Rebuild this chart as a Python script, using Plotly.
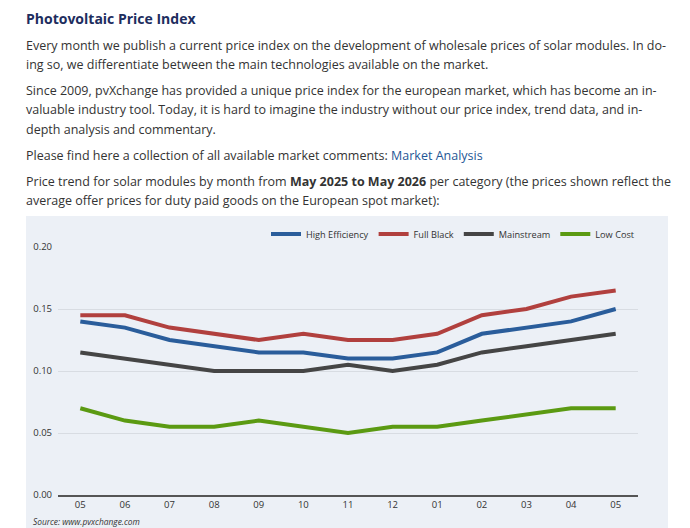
import plotly.graph_objects as go

# price index data, EUR/Wp, May 2025 - May 2026
months = ["05", "06", "07", "08", "09", "10", "11", "12", "01", "02", "03", "04", "05"]
high_eff = [0.14, 0.135, 0.125, 0.12, 0.115, 0.115, 0.11, 0.11, 0.115, 0.13, 0.135, 0.14, 0.15]
full_black = [0.145, 0.145, 0.135, 0.13, 0.125, 0.13, 0.125, 0.125, 0.13, 0.145, 0.15, 0.16, 0.165]
mainstream = [0.115, 0.11, 0.105, 0.10, 0.10, 0.10, 0.105, 0.10, 0.105, 0.115, 0.12, 0.125, 0.13]
low_cost = [0.07, 0.06, 0.055, 0.055, 0.06, 0.055, 0.05, 0.055, 0.055, 0.06, 0.065, 0.07, 0.07]
y_ticks = [0.0, 0.05, 0.10, 0.15, 0.20]

W, H = 690, 528
L, R, T, B = 58, 638, 247, 495  # plot area in pixels

def px(x):
    return (x - L) / (R - L)

def py(y):
    return (B - y) / (B - T)

FONT = "Open Sans"
TXT = "#333333"
BODY = 12.5

fig = go.Figure()
series = [
    ("High Efficiency", high_eff, "#2a5d9b"),
    ("Full Black", full_black, "#b1403e"),
    ("Mainstream", mainstream, "#454545"),
    ("Low Cost", low_cost, "#5b9a12"),
]
for name, vals, col in series:
    fig.add_trace(go.Scatter(x=list(range(len(months))), y=vals, name=name,
                             mode="lines", line=dict(color=col, width=4),
                             hoverinfo="skip"))

# page text
lines = [
    (18, "<b>Photovoltaic Price Index</b>", 14, "#1d2d5e"),
    (45, "Every month we publish a current price index on the development of wholesale prices of solar modules. In do-", BODY, TXT),
    (64, "ing so, we differentiate between the main technologies available on the market.", BODY, TXT),
    (91, "Since 2009, pvXchange has provided a unique price index for the european market, which has become an in-", BODY, TXT),
    (110, "valuable industry tool. Today, it is hard to imagine the industry without our price index, trend data, and in-", BODY, TXT),
    (129, "depth analysis and commentary.", BODY, TXT),
    (155, "Please find here a collection of all available market comments: <span style='color:#1f5796'>Market Analysis</span>", BODY, TXT),
    (181, "Price trend for solar modules by month from <b>May 2025 to May 2026</b> per category (the prices shown reflect the", BODY, TXT),
    (200, "average offer prices for duty paid goods on the European spot market):", BODY, TXT),
]
for y, text, size, col in lines:
    fig.add_annotation(x=px(24), y=py(y), xref="paper", yref="paper", text=text,
                       showarrow=False, xanchor="left", yanchor="middle",
                       font=dict(family=FONT, size=size, color=col))

fig.add_annotation(x=px(31), y=py(521), xref="paper", yref="paper",
                   text="<i>Source: www.pvxchange.com</i>", showarrow=False,
                   xanchor="left", yanchor="middle",
                   font=dict(family=FONT, size=8.4, color=TXT))

# chart panel background
fig.add_shape(type="rect", xref="paper", yref="paper", x0=px(26), x1=px(668),
              y0=py(530), y1=py(216), fillcolor="#ecf0f6", line_width=0, layer="below")

fig.update_layout(
    width=W, height=H,
    margin=dict(l=L, r=W - R, t=T, b=H - B),
    paper_bgcolor="white", plot_bgcolor="rgba(0,0,0,0)",
    font=dict(family=FONT, size=9.5, color=TXT),
    showlegend=True,
    legend=dict(orientation="h", x=px(640), y=py(234), xanchor="right", yanchor="middle",
                bgcolor="rgba(0,0,0,0)", font=dict(size=9.2, color=TXT),
                itemwidth=30, tracegroupgap=0),
)
fig.update_xaxes(range=[-0.5, len(months) - 0.5], tickvals=list(range(len(months))),
                 ticktext=months, showgrid=False, zeroline=False, showline=True,
                 linecolor="#555555", linewidth=2, ticks="", tickfont=dict(size=9.5, color=TXT))
fig.update_yaxes(range=[0, 0.2], tickvals=y_ticks, tickformat=".2f", showgrid=True,
                 gridcolor="#d8dce2", gridwidth=1, zeroline=False, showline=False,
                 ticks="", ticklabelstandoff=5, tickfont=dict(size=9.5, color=TXT))

fig.write_html("out.html", config={"displayModeBar": False},
               post_script="document.body.style.margin='0px';")
